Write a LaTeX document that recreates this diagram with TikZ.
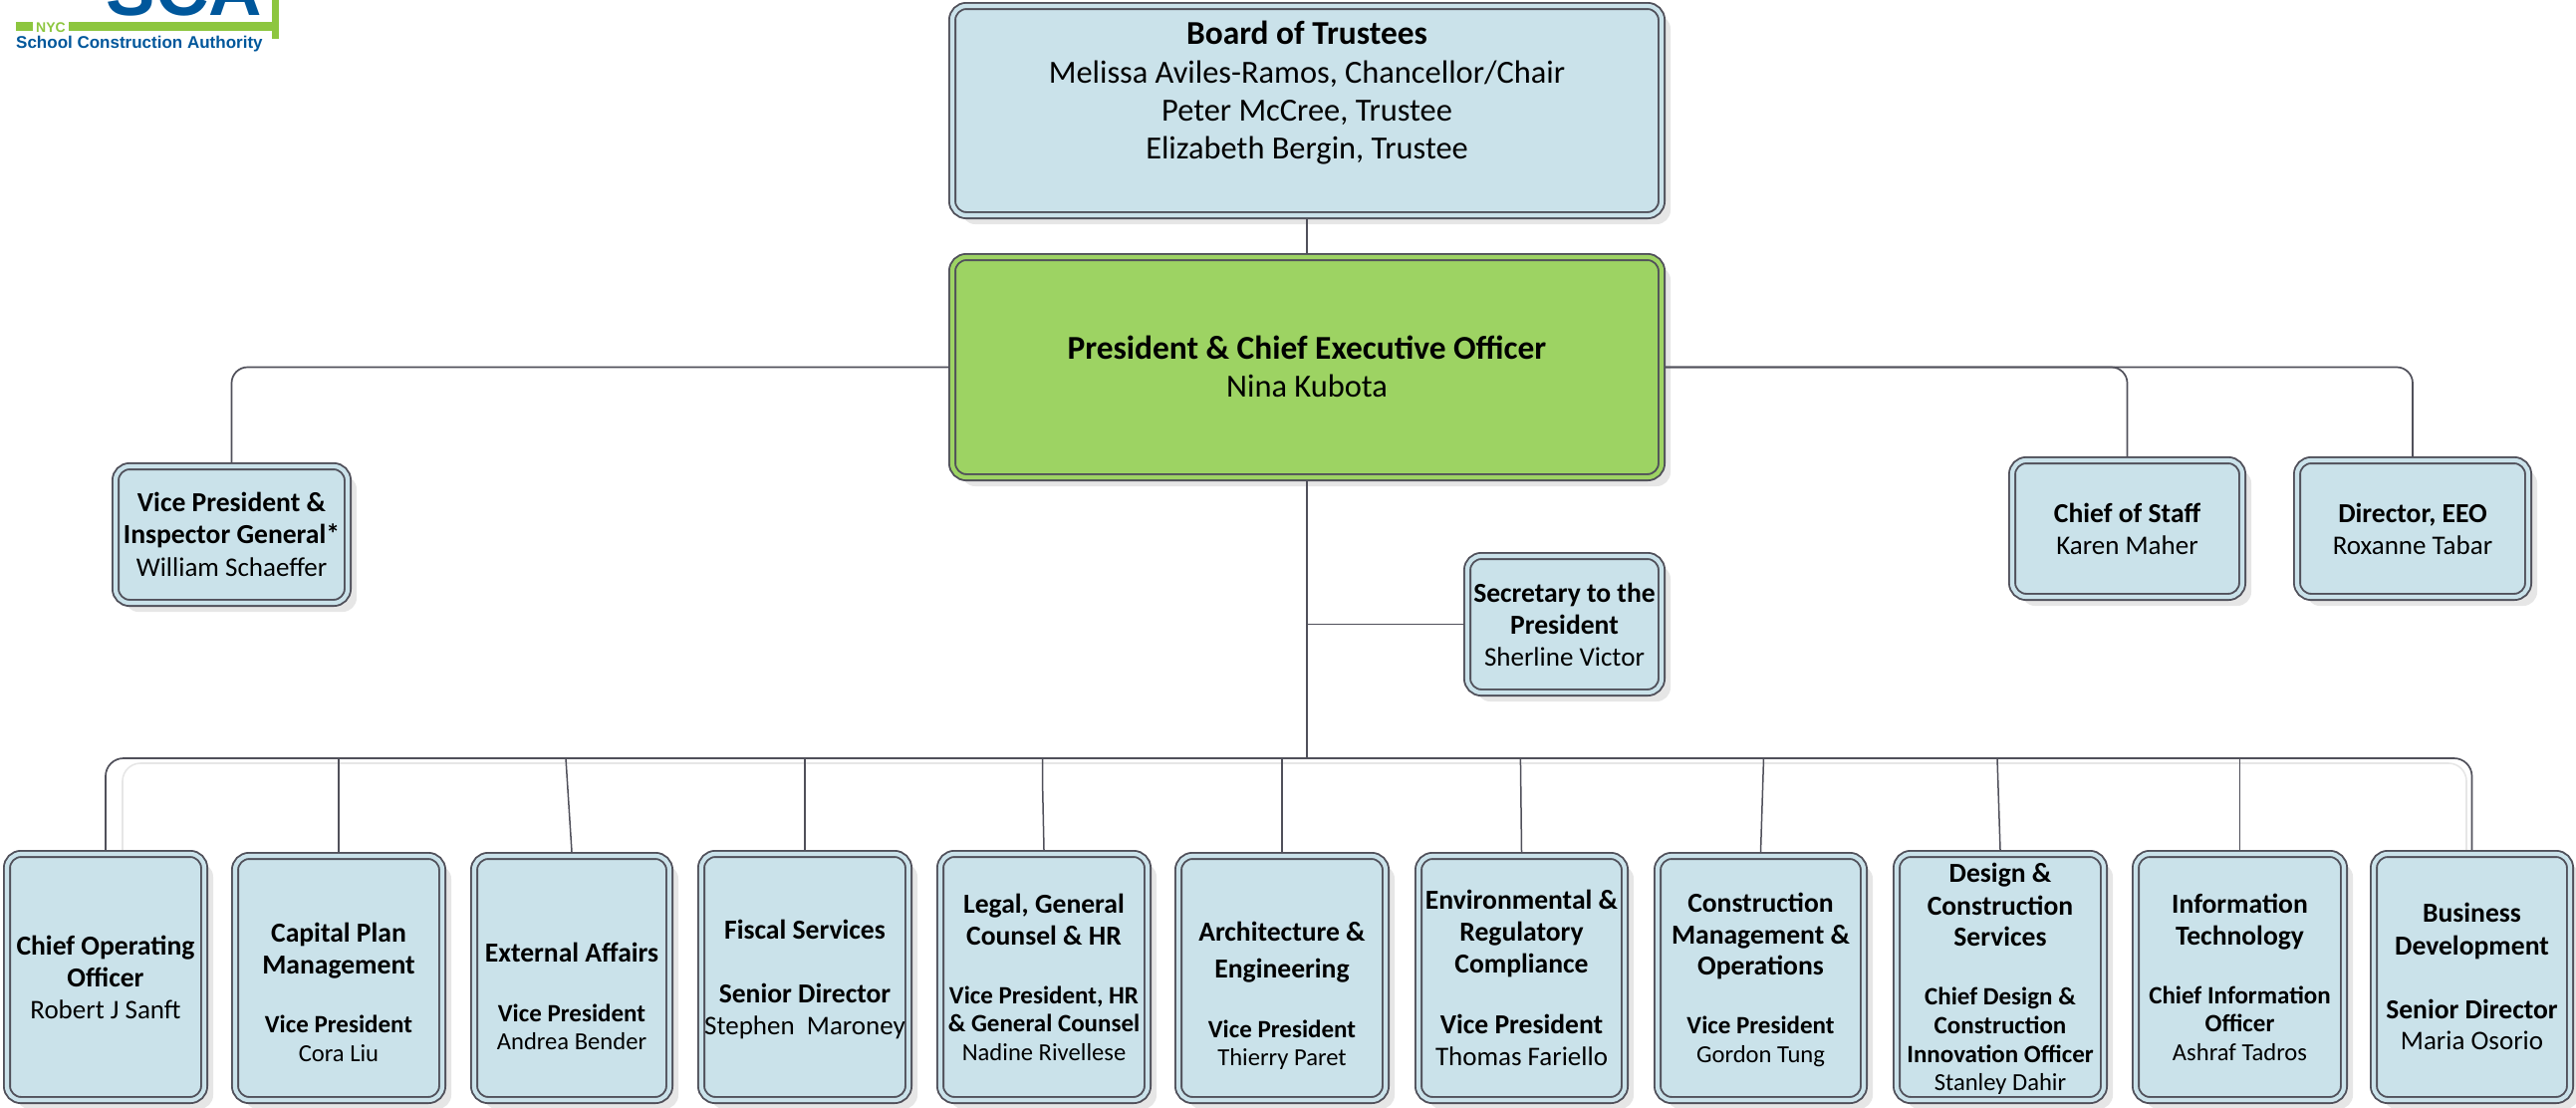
\documentclass[tikz,border=0pt]{standalone}
\usepackage{fontspec}
\setmainfont{Carlito}
\newfontfamily\logofont{Liberation Sans}
\usetikzlibrary{shadows}
\definecolor{boxblue}{HTML}{CAE2EA}
\definecolor{boxgreen}{HTML}{9DD363}
\definecolor{linegray}{HTML}{50505A}
\definecolor{shadowgray}{HTML}{E6E6E6}
\definecolor{logoblue}{HTML}{00579B}
\definecolor{logogreen}{HTML}{8DC63F}
\newcommand\lineout[3]{\hbox to 0pt{\hss\smash{#2#3}\hss\vrule height #1pt width 0pt depth 0pt}}
\newcommand\LTb[2]{\lineout{#1}{\fontsize{27.6}{30}\selectfont\bfseries}{#2}}
\newcommand\LNr[2]{\lineout{#1}{\fontsize{27}{30}\selectfont}{#2}}
\newcommand\LSb[2]{\lineout{#1}{\fontsize{25}{28}\selectfont\bfseries}{#2}}
\newcommand\LSn[2]{\lineout{#1}{\fontsize{24.6}{28}\selectfont}{#2}}
\newcommand\LGb[2]{\lineout{#1}{\fontsize{33.4}{36}\selectfont\bfseries}{#2}}
\newcommand\LGn[2]{\lineout{#1}{\fontsize{32.4}{36}\selectfont}{#2}}
\newcommand\orgbox[8][]{%
  \pgfmathsetmacro\boxcx{(#3+#5)/2}%
  \pgfmathsetmacro\boxcy{(#4+#6)/2}%
  \pgfmathsetmacro\boxw{#5-#3-8}%
  \pgfmathsetmacro\boxh{#6-#4-8}%
  \pgfmathsetmacro\boxrs{\boxcy-#7-1.2}%
  \node[orgnode,#1,minimum width=\boxw pt,minimum height=\boxh pt] (#2) at (\boxcx,\boxcy)
    {\raisebox{\boxrs pt}[0pt][0pt]{\vtop{\offinterlineskip #8}}};}
\tikzset{
  orgnode/.style={draw=linegray,line width=1.9pt,double=boxblue,double distance=4.2pt,
    fill=boxblue,rounded corners=14pt,inner sep=0pt,outer sep=4pt,
    general shadow={fill=shadowgray,shadow xshift=9pt,shadow yshift=-9pt}},
  greennode/.style={double=boxgreen,fill=boxgreen},
  conn/.style={draw=linegray,line width=1.7pt},
  connthin/.style={draw=linegray,line width=1.5pt},
  ghostline/.style={draw=shadowgray,line width=1.6pt,rounded corners=18pt}
}
\begin{document}
\begin{tikzpicture}[x=1pt,y=-1pt]
\useasboundingbox (0,0) rectangle (2586,1111);
% logo
\begin{scope}
  \clip (0,0) rectangle (2586,1111);
  \node[anchor=base,inner sep=0pt,text=logoblue,font=\logofont\bfseries\fontsize{74}{74}\selectfont] (logomark) at (185,15) {SCA};
\end{scope}
\fill[logogreen] (16,22) rectangle (33,31);
\fill[logogreen] (69,22) rectangle (273,31);
\fill[logogreen] (273,0) rectangle (280,39);
\node[anchor=base,inner sep=0pt,text=logogreen,font=\logofont\bfseries\fontsize{14}{14}\selectfont] (logonyc) at (51,32) {NYC};
\node[anchor=base west,inner sep=0pt,text=logoblue,font=\logofont\bfseries\fontsize{17}{17}\selectfont] (logoname) at (16,48) {School Construction Authority};
% ghost of the bus
\coordinate (ghostL) at (123,853);
\coordinate (ghostM) at (1300,766);
\coordinate (ghostR) at (2476,853);
\draw[ghostline] (ghostL) |- (ghostM) -| (ghostR);
% top
\orgbox{board}{952}{2}{1672}{220}{43}{\LGb{0}{Board of Trustees}\LGn{39}{Melissa Aviles-Ramos, Chancellor/Chair}\LGn{38.5}{Peter McCree, Trustee}\LGn{38}{Elizabeth Bergin, Trustee}}
\orgbox[greennode]{pres}{952}{254}{1672}{483}{359}{\LGb{0}{President \& Chief Executive Officer}\LGn{38}{Nina Kubota}}
\orgbox{vpig}{112}{464}{353}{609}{512}{\LTb{0}{Vice President \&}\LTb{32}{Inspector General*}\LNr{33}{William Schaeffer}}
\orgbox{cos}{2016}{458}{2255}{603}{523}{\LTb{0}{Chief of Staff}\LNr{32}{Karen Maher}}
\orgbox{eeo}{2302}{458}{2542}{603}{523}{\LTb{0}{Director, EEO}\LNr{32}{Roxanne Tabar}}
\orgbox{sec}{1469}{554}{1672}{699}{603}{\LTb{0}{Secretary to the}\LTb{32}{President}\LNr{32}{Sherline Victor}}
% bottom row
\orgbox{coo}{3}{853}{209}{1108}{957}{\LTb{0}{Chief Operating}\LTb{32}{Officer}\LNr{32}{Robert J Sanft}}
\orgbox{cap}{232}{855}{448}{1108}{944}{\LTb{0}{Capital Plan}\LTb{32}{Management}\LSb{59}{Vice President}\LSn{29}{Cora Liu}}
\orgbox{ext}{472}{855}{676}{1108}{964}{\LTb{0}{External Affairs}\LSb{60}{Vice President}\LSn{28}{Andrea Bender}}
\orgbox{fis}{700}{853}{916}{1108}{941}{\LTb{0}{Fiscal Services}\LTb{64}{Senior Director}\LNr{32}{Stephen\ \ Maroney}}
\orgbox{leg}{940}{853}{1156}{1108}{915}{\LTb{0}{Legal, General}\LTb{32}{Counsel \& HR}\LSb{59}{Vice President, HR}\LSb{28}{\& General Counsel}\LSn{29}{Nadine Rivellese}}
\orgbox{arc}{1179}{855}{1395}{1108}{943}{\LTb{0}{Architecture \&}\LTb{37}{Engineering}\LSb{60}{Vice President}\LSn{28}{Thierry Paret}}
\orgbox{env}{1420}{855}{1635}{1108}{911}{\LTb{0}{Environmental \&}\LTb{32}{Regulatory}\LTb{32}{Compliance}\LTb{61}{Vice President}\LNr{32}{Thomas Fariello}}
\orgbox{cmo}{1660}{855}{1875}{1108}{914}{\LTb{0}{Construction}\LTb{32}{Management \&}\LTb{31}{Operations}\LSb{59}{Vice President}\LSn{29}{Gordon Tung}}
\orgbox{dcs}{1900}{853}{2116}{1108}{884}{\LTb{0}{Design \&}\LTb{33}{Construction}\LTb{31}{Services}\LSb{59}{Chief Design \&}\LSb{29}{Construction}\LSb{29}{Innovation Officer}\LSn{28}{Stanley Dahir}}
\orgbox{itc}{2140}{853}{2357}{1108}{915}{\LTb{0}{Information}\LTb{32}{Technology}\LSb{59}{Chief Information}\LSb{28}{Officer}\LSn{29}{Ashraf Tadros}}
\orgbox{bde}{2379}{853}{2584}{1108}{924}{\LTb{0}{Business}\LTb{33}{Development}\LTb{64}{Senior Director}\LNr{31}{Maria Osorio}}
% connectors
\coordinate (busmid) at (1312,761);
\coordinate (extTop) at (568,761);
\coordinate (legTop) at (1046.5,761);
\coordinate (legJog) at (1046.5,783);
\coordinate (envTop) at (1526.4,761);
\coordinate (cmoTop) at (1770.5,761);
\coordinate (dcsTop) at (2005,761);
\draw[conn] (board.south) -- (pres.north);
\draw[conn] (pres.south) -- (busmid);
\draw[conn] (sec.west) -- (sec.west -| pres.south);
\draw[conn,rounded corners=16pt] (pres.west) -| (vpig.north);
\draw[conn,rounded corners=16pt] (pres.east) -| (cos.north);
\draw[conn,rounded corners=16pt] (pres.east) -| (eeo.north);
\draw[conn,rounded corners=18pt] (coo.north) |- (busmid) -| (bde.north);
\draw[conn] (cap.north) -- (cap.north |- busmid);
\draw[connthin] (extTop) -- (ext.north);
\draw[conn] (fis.north) -- (fis.north |- busmid);
\draw[connthin] (legTop) -- (legJog) -- (leg.north);
\draw[conn] (arc.north) -- (arc.north |- busmid);
\draw[connthin] (envTop) -- (env.north);
\draw[connthin] (cmoTop) -- (cmo.north);
\draw[connthin] (dcsTop) -- (dcs.north);
\draw[conn] (itc.north) -- (itc.north |- busmid);
\end{tikzpicture}
\end{document}
